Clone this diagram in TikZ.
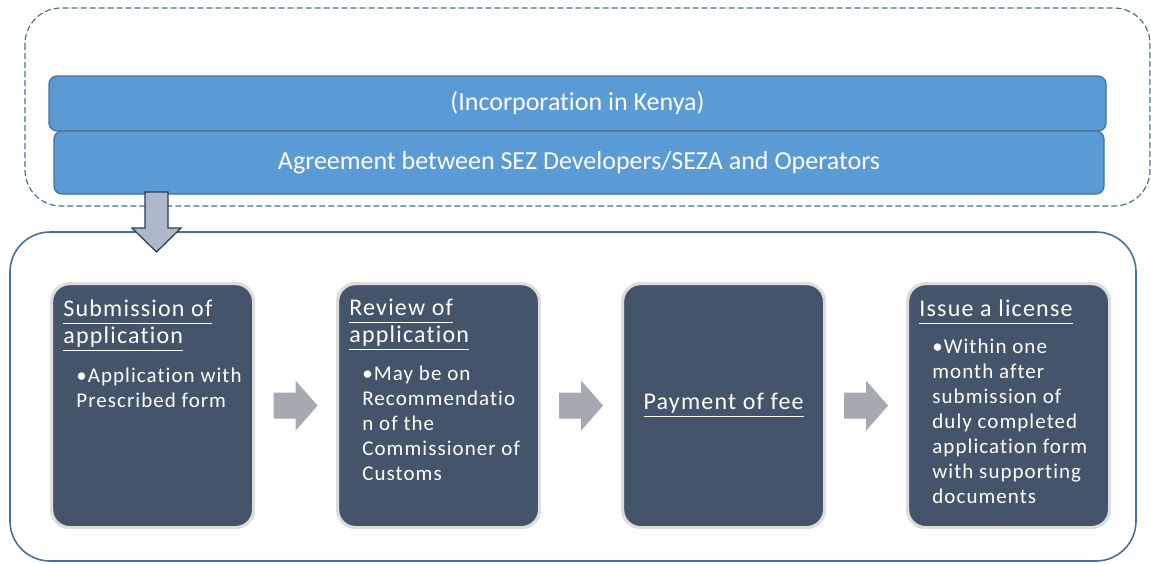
\documentclass[tikz,border=0pt]{standalone}
\usepackage{fontspec}
\setmainfont{Carlito}[Ligatures={NoCommon}]
\newfontfamily\spacedfont{Carlito}[LetterSpace=5, Ligatures={NoCommon}]
\usetikzlibrary{positioning,calc}

\definecolor{barblue}{HTML}{5B9BD5}
\definecolor{barline}{HTML}{41719C}
\definecolor{slate}{HTML}{44546A}
\definecolor{rimgray}{HTML}{DDDDDD}
\definecolor{chevgray}{HTML}{A6A9B0}
\definecolor{dropfill}{HTML}{ADB9CA}
\definecolor{dropline}{HTML}{2E3A4A}

% underlined step title, same rule depth on every line
\newcommand\hd[1]{\underline{#1\vphantom{gp}}}

\begin{document}
\begin{tikzpicture}[
    x=0.5pt, y=-0.5pt,
    bar/.style={draw=barline, fill=barblue, rounded corners=4pt, line width=0.6pt,
        text=white, font=\fontsize{13}{15}\selectfont},
    stage/.style={draw=rimgray, fill=slate, line width=1.6pt, rounded corners=9pt,
        minimum width=101pt, minimum height=122pt, anchor=north west},
    heading/.style={text=white, font=\spacedfont\fontsize{12}{13.5}\selectfont,
        align=left, inner sep=0pt, anchor=north west},
    bullets/.style={text=white, font=\spacedfont\fontsize{10.5}{12.5}\selectfont,
        align=left, inner sep=0pt, anchor=north west},
    chevron/.style={fill=chevgray}
]
\useasboundingbox (0,0) rectangle (1151,563);

% frames
\draw[barline, line width=0.6pt, dash pattern=on 3pt off 1.5pt, rounded corners=18pt]
    (25,8) rectangle (1150,206);
\draw[barline, line width=0.8pt, rounded corners=20pt] (10,232) rectangle (1136,561);

% top bars
\node[bar, minimum width=528.5pt, minimum height=27.5pt] (inc) at (577.5,103.5) {(Incorporation in Kenya)};
\node[bar, minimum width=525pt, minimum height=31.5pt] (agr) at (579,162.5) {Agreement between SEZ Developers/SEZA and Operators};

% drop arrow into the steps
\coordinate (drop) at (156.5,192);
\draw[dropline, fill=dropfill, line width=0.6pt]
    (drop) ++(-11.5,0) -- ++(23,0) -- ++(0,36) -- ++(13,0) -- ++(-24.5,24)
    -- ++(-24.5,-24) -- ++(13,0) -- cycle;

% steps
\node[stage] (s1) at (50,282) {};
\node[stage] (s2) at (336,282) {};
\node[stage] (s3) at (621,282) {};
\node[stage] (s4) at (906,282) {};

\node[heading] (h1) at ([shift={(13,17)}]s1.north west) {\hd{Submission of}\\\hd{application}};
\node[bullets] (p1) at ([shift={(13,16)}]h1.south west) {\textbullet Application with\\Prescribed form};

\node[heading] (h2) at ([shift={(13,17)}]s2.north west) {\hd{Review of}\\\hd{application}};
\node[bullets] (p2) at ([shift={(13,14)}]h2.south west) {\textbullet May be on\\Recommendatio\\n of the\\Commissioner of\\Customs};

\node[heading, anchor=center] (h3) at (s3.center) {\hd{Payment of fee}};

\node[heading] (h4) at ([shift={(13,17)}]s4.north west) {\hd{Issue a license}};
\node[bullets] (p4) at ([shift={(13,14)}]h4.south west) {\textbullet Within one\\month after\\submission of\\duly completed\\application form\\with supporting\\documents};

% arrows between steps
\foreach \a/\b in {s1/s2, s2/s3, s3/s4} {
    \path ($(\a.east)!0.5!(\b.west)$) coordinate (m);
    \fill[chevron] (m) ++(-22,-13) -- ++(22,0) -- ++(0,-12) -- ++(22,25)
        -- ++(-22,25) -- ++(0,-12) -- ++(-22,0) -- cycle;
}
\end{tikzpicture}
\end{document}
